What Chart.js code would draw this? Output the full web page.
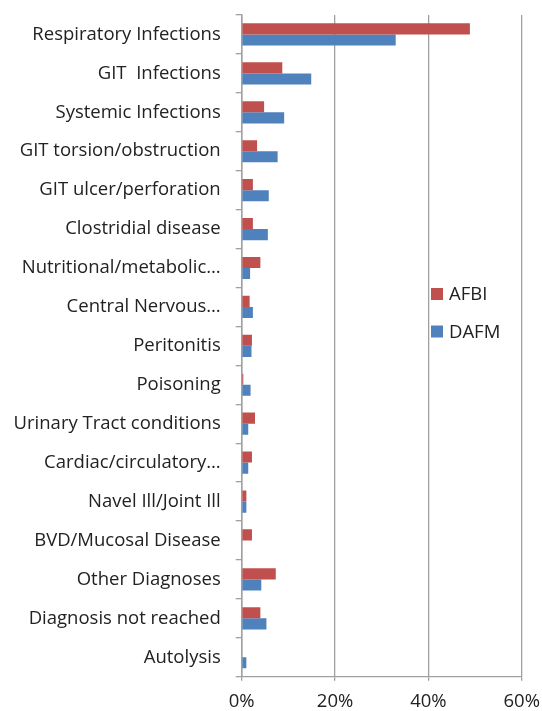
<!DOCTYPE html>
<html>
<head>
<meta charset="utf-8">
<script src="https://cdn.jsdelivr.net/npm/chart.js@4/dist/chart.umd.min.js"></script>
<style>
  html, body { margin: 0; padding: 0; background: #fff; }
  canvas { display: block; }
</style>
</head>
<body>
<canvas id="diagChart" width="542" height="711"></canvas>
<script>
// categories, top to bottom
const categories = [
    'Respiratory Infections', 'GIT  Infections', 'Systemic Infections',
    'GIT torsion/obstruction', 'GIT ulcer/perforation', 'Clostridial disease',
    'Nutritional/metabolic…', 'Central Nervous…', 'Peritonitis', 'Poisoning',
    'Urinary Tract conditions', 'Cardiac/circulatory…', 'Navel Ill/Joint Ill',
    'BVD/Mucosal Disease', 'Other Diagnoses', 'Diagnosis not reached', 'Autolysis'
];
// percent of diagnoses
const afbiValues = [48.9, 8.7, 4.8, 3.3, 2.4, 2.4, 4.0, 1.7, 2.2, 0.35, 2.85, 2.2, 1.0, 2.2, 7.3, 4.0, 0];
const dafmValues = [33.0, 14.9, 9.1, 7.7, 5.8, 5.6, 1.8, 2.4, 2.1, 1.9, 1.4, 1.4, 1.0, 0, 4.2, 5.3, 1.0];
const xTicks = [0, 20, 40, 60];

const labelFont = { family: 'Open Sans', size: 18.5 };

// legend drawn over the plot area, like the original
const insideLegend = {
    id: 'insideLegend',
    afterDraw(chart) {
        const ctx = chart.ctx;
        ctx.save();
        ctx.font = '18.5px "Open Sans"';
        ctx.textBaseline = 'middle';
        chart.data.datasets.forEach((ds, i) => {
            const y = 294 + i * 37.5;
            ctx.fillStyle = ds.backgroundColor;
            ctx.fillRect(431, y - 6, 12, 12);
            ctx.fillStyle = '#222';
            ctx.fillText(ds.label, 449, y + 1);
        });
        ctx.restore();
    }
};

new Chart(document.getElementById('diagChart'), {
    type: 'bar',
    data: {
        labels: categories,
        datasets: [
            {
                label: 'AFBI',
                data: afbiValues,
                backgroundColor: '#C0504D',
                categoryPercentage: 0.57,
                barPercentage: 1.0
            },
            {
                label: 'DAFM',
                data: dafmValues,
                backgroundColor: '#4F81BD',
                categoryPercentage: 0.57,
                barPercentage: 1.0
            }
        ]
    },
    options: {
        indexAxis: 'y',
        responsive: false,
        animation: false,
        layout: { padding: { left: 0, right: 20.3, top: 15, bottom: 0 } },
        plugins: {
            legend: { display: false },
            tooltip: { enabled: false }
        },
        scales: {
            x: {
                min: 0,
                max: 60,
                afterBuildTicks: (axis) => { axis.ticks = xTicks.map(v => ({ value: v })); },
                afterFit: (axis) => {
                    axis.height = 34.3;
                    axis.paddingLeft = 0;
                    axis.paddingRight = 0;
                },
                border: { color: '#A0A0A0', width: 1.3 },
                grid: { color: '#A0A0A0', lineWidth: 1.3, tickLength: 4 },
                ticks: {
                    color: '#222',
                    font: labelFont,
                    padding: 10,
                    callback: (value) => value + '%'
                }
            },
            y: {
                afterFit: (axis) => {
                    axis.width = 241.7;
                    axis.paddingTop = 0;
                    axis.paddingBottom = 0;
                },
                border: { color: '#A0A0A0', width: 1.5 },
                grid: { offset: true, drawOnChartArea: false, color: '#A0A0A0', lineWidth: 1.3, tickLength: 6 },
                ticks: {
                    color: '#222',
                    font: labelFont,
                    padding: 15,
                    autoSkip: false
                }
            }
        }
    },
    plugins: [insideLegend]
});
</script>
</body>
</html>
